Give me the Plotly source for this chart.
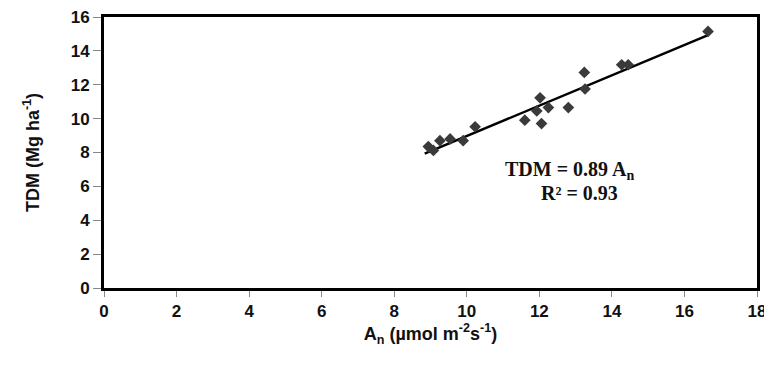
import numpy as np
import plotly.graph_objects as go

# Data
an_values = [8.94, 9.08, 9.26, 9.54, 9.90, 10.23, 11.60, 11.93, 12.02, 12.06,
             12.25, 12.80, 13.24, 13.26, 14.27, 14.45, 16.65]
tdm_values = [8.35, 8.12, 8.70, 8.80, 8.70, 9.52, 9.91, 10.45, 11.23, 9.71,
              10.65, 10.65, 12.73, 11.75, 13.18, 13.18, 15.15]
x_ticks = list(range(0, 19, 2))
y_ticks = list(range(0, 17, 2))
eq_text = "TDM = 0.89 A<sub>n</sub>"
r2_text = "R² = 0.93"

x = np.array(an_values)
y = np.array(tdm_values)
slope, intercept = np.polyfit(x, y, 1)
fx = np.array([x.min() - 0.1, x.max()])
fy = slope * fx + intercept

fig = go.Figure()
fig.add_trace(go.Scatter(x=fx, y=fy, mode="lines",
                         line=dict(color="black", width=2.5), showlegend=False))
fig.add_trace(go.Scatter(x=an_values, y=tdm_values, mode="markers",
                         marker=dict(symbol="diamond", size=9, color="#3a3a3a"),
                         showlegend=False))

sans = "Liberation Sans, Arial, sans-serif"
serif = "Liberation Serif, Times New Roman, serif"
tick_font = dict(family=sans, size=17, color="#111", weight="bold")
title_font = dict(family=sans, size=18, color="#111", weight="bold")

fig.update_xaxes(range=[0, 18], tickvals=x_ticks, showline=True, mirror=True,
                 linecolor="black", linewidth=3, ticks="outside", ticklen=6,
                 tickcolor="#888", tickwidth=1, showgrid=False, zeroline=False,
                 tickfont=tick_font, automargin=False, ticklabeloverflow="allow",
                 title=dict(text="A<sub>n</sub> (µmol m<sup>-2</sup>s<sup>-1</sup>)",
                            font=title_font, standoff=6))
fig.update_yaxes(range=[0, 16], tickvals=y_ticks, showline=True, mirror=True,
                 linecolor="black", linewidth=3, ticks="outside", ticklen=8,
                 tickcolor="#888", tickwidth=1, showgrid=False, zeroline=False,
                 tickfont=tick_font, automargin=False, ticklabeloverflow="allow",
                 title=dict(text="TDM (Mg ha<sup>-1</sup>)",
                            font=title_font, standoff=27))

fig.add_annotation(x=12.84, y=6.92, text="<b>" + eq_text + "</b>", showarrow=False,
                   font=dict(family=serif, size=20, color="#111"))
fig.add_annotation(x=13.1, y=5.63, text="<b>" + r2_text + "</b>", showarrow=False,
                   font=dict(family=serif, size=20, color="#111"))

# page body adds an 8px margin, so the figure is sized/offset to compensate
fig.update_layout(width=764, height=361, margin=dict(l=96, r=15, t=9, b=81, autoexpand=False),
                  plot_bgcolor="white", paper_bgcolor="white",
                  font=dict(family=sans))
fig.write_html("out.html")
